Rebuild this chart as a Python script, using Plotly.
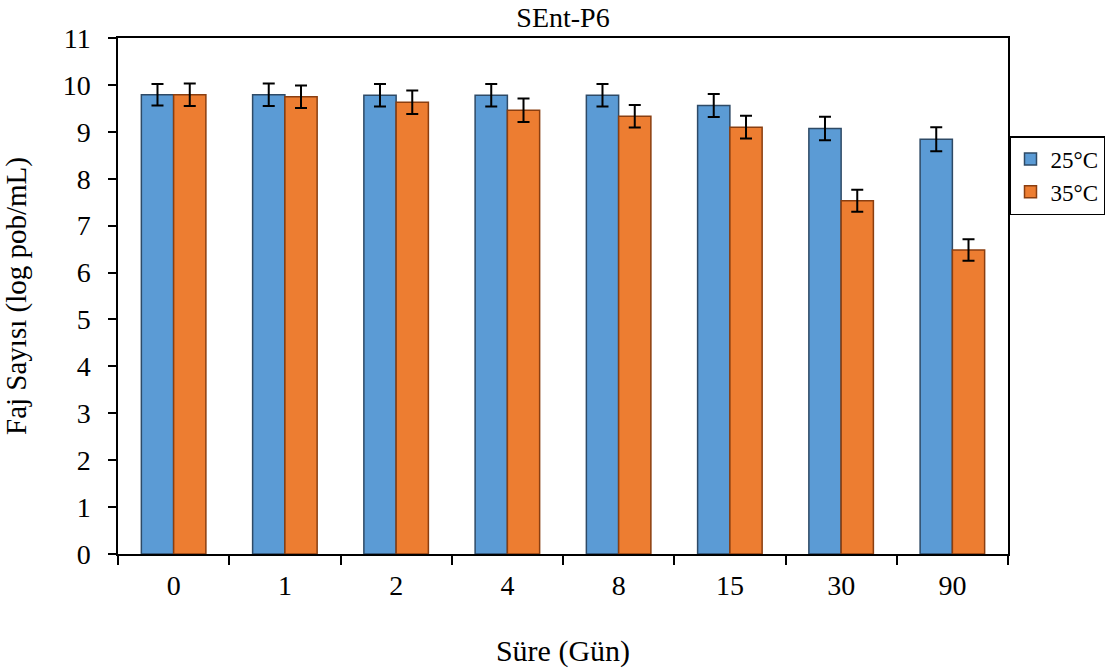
import plotly.graph_objects as go

categories = ["0", "1", "2", "4", "8", "15", "30", "90"]
t25 = [9.79, 9.79, 9.78, 9.78, 9.78, 9.56, 9.07, 8.84]
t35 = [9.79, 9.75, 9.63, 9.46, 9.33, 9.10, 7.53, 6.48]
err25 = [0.23, 0.24, 0.24, 0.24, 0.24, 0.245, 0.25, 0.255]
err35 = [0.24, 0.24, 0.25, 0.25, 0.24, 0.24, 0.235, 0.23]

font = "Liberation Serif"

fig = go.Figure()
fig.add_trace(go.Bar(
    x=categories, y=t25, name="25°C",
    marker=dict(color="#5B9BD5", line=dict(color="#2E4A66", width=1.5)),
    error_y=dict(type="data", array=err25, color="black", thickness=2, width=6),
))
fig.add_trace(go.Bar(
    x=categories, y=t35, name="35°C",
    marker=dict(color="#ED7D31", line=dict(color="#8A3E10", width=1.5)),
    error_y=dict(type="data", array=err35, color="black", thickness=2, width=6),
))

fig.update_layout(
    width=1105, height=670,
    margin=dict(l=118, r=97, t=38, b=116, autoexpand=False),
    paper_bgcolor="white", plot_bgcolor="white",
    barmode="group", bargap=0.42, bargroupgap=0,
    font=dict(family=font, size=28, color="black"),
    title=dict(text="SEnt-P6", x=0.5, xanchor="center", xref="paper",
               y=1 - 17/670, yanchor="middle", font=dict(family=font, size=28)),
    legend=dict(xref="container", yref="container",
                x=1009/1105, y=1 - 136/670, xanchor="left", yanchor="top",
                bordercolor="black", borderwidth=1.5,
                font=dict(family=font, size=23), tracegroupgap=0,
                itemwidth=30),
    showlegend=True,
)
fig.update_xaxes(
    type="category", showline=True, linecolor="black", linewidth=1.5,
    mirror=True, ticks="outside", tickson="boundaries", ticklen=9,
    tickcolor="black", tickwidth=1.5, showgrid=False,
    tickfont=dict(family=font, size=28), ticklabelstandoff=6,
    title=dict(text="Süre (Gün)", font=dict(family=font, size=30), standoff=40),
)
fig.update_yaxes(
    range=[0, 11], dtick=1, showline=True, linecolor="black", linewidth=1.5,
    mirror=True, ticks="outside", ticklen=8, tickcolor="black", tickwidth=1.5,
    showgrid=False, zeroline=False, tickfont=dict(family=font, size=28),
    ticklabelstandoff=12,
    title=dict(text="Faj Sayısı (log pob/mL)", font=dict(family=font, size=29), standoff=28),
)

fig.write_html("out.html")
